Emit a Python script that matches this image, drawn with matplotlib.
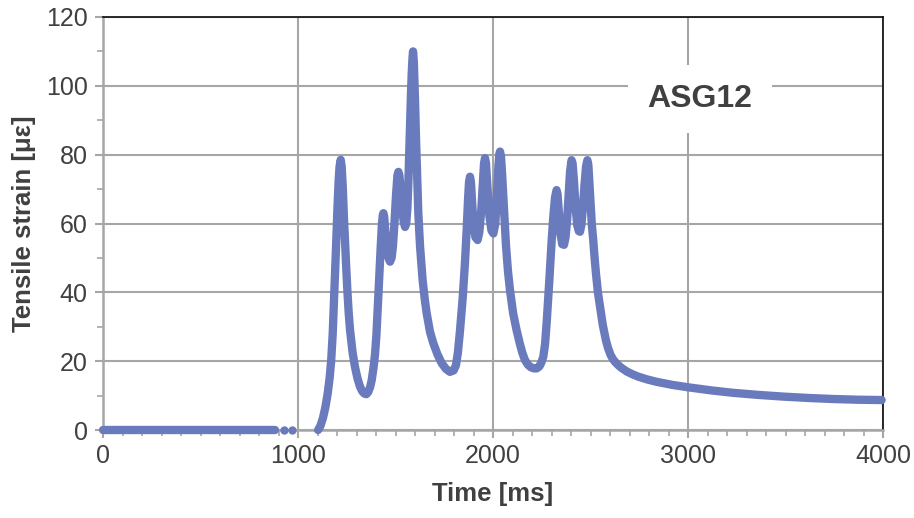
import matplotlib
matplotlib.use("Agg")
import matplotlib.pyplot as plt
from matplotlib.ticker import MultipleLocator

# Strain gauge ASG12: tensile strain over time
baseline_t = [0, 882]
baseline_s = [0, 0]

sparse_t = [928, 969]
sparse_s = [0, 0]

time_ms = [
    1103, 1115, 1128, 1140, 1152, 1162, 1170, 1178, 1185, 1195, 1202, 1208,
    1213, 1219, 1224, 1230, 1236, 1241, 1247, 1253, 1260, 1267, 1280, 1292,
    1305, 1318, 1330, 1340, 1350, 1360, 1370, 1378, 1387, 1395, 1402, 1407,
    1412, 1417, 1424, 1430, 1435, 1438, 1442, 1448, 1456, 1464, 1472, 1480,
    1487, 1495, 1503, 1510, 1515, 1520, 1527, 1535, 1542, 1549, 1555, 1561,
    1566, 1570, 1574, 1579, 1583, 1587, 1590, 1594, 1600, 1605, 1609, 1613,
    1617, 1626, 1639, 1650, 1660, 1677, 1694, 1715, 1737, 1758, 1779, 1798,
    1810, 1820, 1831, 1845, 1856, 1865, 1872, 1877, 1882, 1887, 1893, 1900,
    1910, 1921, 1930, 1940, 1948, 1954, 1959, 1964, 1972, 1982, 1992, 2002,
    2012, 2020, 2028, 2033, 2036, 2041, 2047, 2053, 2060, 2067, 2077, 2087,
    2103, 2121, 2138, 2150, 2164, 2180, 2195, 2210, 2224, 2238, 2248, 2258,
    2267, 2275, 2289, 2301, 2310, 2318, 2326, 2331, 2338, 2346, 2355, 2364,
    2372, 2380, 2388, 2395, 2403, 2408, 2415, 2423, 2432, 2440, 2446, 2453,
    2461, 2469, 2477, 2484, 2489, 2495, 2501, 2507, 2514, 2521, 2528, 2538,
    2549, 2563, 2579, 2590, 2603, 2615, 2626, 2645, 2660, 2686, 2715, 2745,
    2790, 2839, 2920, 3002, 3120, 3232, 3360, 3489, 3620, 3745, 3870, 3993,
]
strain_ue = [
    0.0, 1.2, 3.5, 6.5, 10.5, 15.0, 20.0, 28.0, 38.0, 53.0, 64.0, 72.0,
    76.5, 78.5, 76.5, 70.0, 61.0, 55.2, 47.5, 40.7, 34.0, 29.0, 22.5, 18.4,
    15.0, 12.6, 11.2, 10.6, 10.4, 11.0, 12.5, 14.5, 18.0, 22.0, 27.5, 33.0,
    39.0, 45.0, 53.0, 59.5, 62.5, 63.0, 62.0, 57.5, 52.5, 50.0, 48.9, 50.0,
    53.5, 60.5, 68.5, 74.0, 75.0, 74.0, 69.5, 64.0, 60.5, 59.0, 60.0, 64.5,
    72.0, 80.0, 89.0, 97.0, 103.5, 108.0, 110.0, 107.0, 96.0, 85.0, 77.5, 70.0,
    63.0, 53.3, 43.6, 38.0, 33.9, 28.5, 25.2, 22.0, 19.4, 17.8, 16.9, 17.3,
    18.8, 22.5, 29.0, 38.7, 48.4, 58.1, 67.0, 72.0, 73.6, 72.0, 66.0, 60.0,
    56.0, 55.2, 57.5, 64.0, 72.0, 77.5, 79.0, 77.5, 70.0, 62.0, 58.0, 57.1,
    60.0, 68.0, 77.0, 80.3, 80.9, 79.5, 74.0, 67.8, 60.0, 53.3, 46.0, 40.7,
    34.0, 29.0, 25.0, 22.5, 20.3, 18.9, 18.2, 17.9, 17.9, 18.5, 19.6, 21.3,
    25.0, 31.0, 43.6, 55.2, 62.5, 67.5, 69.7, 68.5, 63.0, 57.0, 54.0, 53.8,
    56.0, 61.0, 68.5, 75.0, 78.4, 77.5, 72.5, 65.0, 59.5, 57.8, 57.6, 59.5,
    64.5, 71.0, 76.5, 78.4, 77.0, 71.0, 64.9, 59.5, 55.2, 50.0, 45.5, 40.0,
    35.8, 30.5, 26.1, 23.8, 21.8, 20.6, 19.8, 18.7, 18.0, 17.0, 16.2, 15.5,
    14.7, 14.0, 13.1, 12.4, 11.5, 10.8, 10.2, 9.7, 9.3, 9.0, 8.8, 8.7,
]

x_ticks = [0, 1000, 2000, 3000, 4000]
y_ticks = [0, 20, 40, 60, 80, 100, 120]
gauge_name = "ASG12"

series_color = "#6a7bbd"
text_color = "#404040"
grid_color = "#a6a6a6"

plt.rcParams["font.family"] = ["Liberation Sans", "DejaVu Sans"]

fig = plt.figure(figsize=(9.14, 5.18), dpi=100)
ax = fig.add_axes([103 / 914, 1 - 430 / 518, 780 / 914, 413 / 518])

lw = 6.0
ax.plot(baseline_t, baseline_s, color=series_color, lw=lw,
        solid_capstyle="round", clip_on=False, zorder=3)
ax.plot(sparse_t, sparse_s, "o", color=series_color, ms=lw,
        mew=0, clip_on=False, zorder=3)
ax.plot(time_ms, strain_ue, color=series_color, lw=lw,
        solid_capstyle="round", solid_joinstyle="round",
        clip_on=False, zorder=3)

ax.set_xlim(0, 4000)
ax.set_ylim(0, 120)
ax.set_xticks(x_ticks)
ax.set_yticks(y_ticks)
ax.xaxis.set_minor_locator(MultipleLocator(100))
ax.yaxis.set_minor_locator(MultipleLocator(10))

ax.grid(True, which="major", color=grid_color, lw=1.5, zorder=0)
ax.set_axisbelow(True)

for side in ("left", "bottom"):
    ax.spines[side].set_color(grid_color)
    ax.spines[side].set_linewidth(1.8)
for side in ("top", "right"):
    ax.spines[side].set_color("#1a1a1a")
    ax.spines[side].set_linewidth(1.3)

ax.tick_params(which="major", direction="out", length=6, width=1.5,
               color=grid_color, labelsize=18, labelcolor=text_color)
ax.tick_params(which="minor", direction="out", length=4, width=1.2,
               color=grid_color)
ax.tick_params(axis="y", pad=5)
ax.tick_params(axis="x", pad=4)

ax.set_xlabel("Time [ms]", fontsize=18.5, fontweight="bold",
              color=text_color, labelpad=10)
ax.set_ylabel("Tensile strain [με]", fontsize=18.5, fontweight="bold",
              color=text_color, labelpad=7)

ax.text(3062, 96.2, gauge_name, fontsize=23, fontweight="bold",
        color=text_color, ha="center", va="center", zorder=4,
        bbox=dict(boxstyle="square,pad=0.6", fc="white", ec="none"))

fig.savefig("out.png", dpi=100)
